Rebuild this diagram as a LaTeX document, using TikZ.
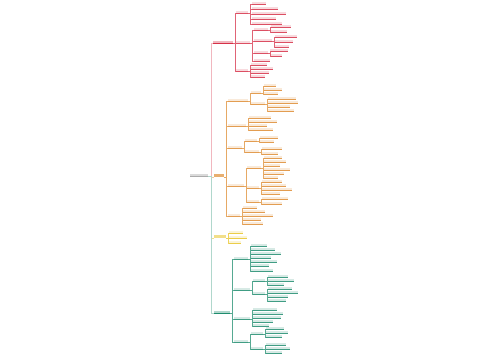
\documentclass[tikz,border=0pt]{standalone}
\definecolor{cr}{RGB}{214,48,72}
\definecolor{co}{RGB}{222,140,50}
\definecolor{cy}{RGB}{232,196,40}
\definecolor{cg}{RGB}{30,140,110}
\definecolor{cgray}{RGB}{150,150,150}
\tikzset{
  bar/.style={inner sep=0pt, minimum height=1.4pt, anchor=south west, fill=#1!18},
  uline/.style={draw=#1!85, line width=0.25pt},
  conn/.style={draw=#1!75, line width=0.3pt},
  mainbar/.style={inner sep=0pt, minimum height=2pt, anchor=south west, fill=#1!35},
}
\newcommand\nd[6]{%
  \node[bar=#5, minimum width=#4pt] (#1) at (#2,#3) {};
  \draw[uline=#5] (#1.south west) -- (#1.south east);
  \draw[conn=#5] (#6.south east) -- ++(1.5,0) |- (#1.south west);
}
\newcommand\lv[4]{%
  \foreach \yy/\ww [count=\i] in {#4} {\nd{#1-\i}{#2}{\yy}{\ww}{#3}{#1}}%
}
\begin{document}
\begin{tikzpicture}[x=1pt,y=-1pt]
\useasboundingbox (0,0) rectangle (500,360);
\fill[white] (0,0) rectangle (500,360);
% root
\node[mainbar=cgray, minimum width=18pt] (R) at (190,176) {};
\draw[cgray!80, line width=0.4pt] (R.south west) -- (R.south east);
% main branches
\node[mainbar=cr, minimum width=20pt] (A) at (213,43) {};
\draw[cr, line width=0.8pt] (A.south west) -- (A.south east);
\draw[cr!35, line width=0.5pt] (R.south east) -- ++(3,0) |- (A.south west);
\node[inner sep=0pt, minimum height=3pt, minimum width=10pt, anchor=south west, fill=co!70] (B) at (214,177) {};
\draw[co!45, line width=0.5pt] (R.south east) -- ++(3,0) |- (B.south west);
\node[inner sep=0pt, minimum height=3pt, minimum width=12pt, anchor=south west, fill=cy!55] (C) at (214,238) {};
\draw[cy!55, line width=0.5pt] (R.south east) -- ++(3,0) |- (C.south west);
\node[mainbar=cg, minimum width=16pt] (D) at (214,313) {};
\draw[cg, line width=0.8pt] (D.south west) -- (D.south east);
\draw[cg!35, line width=0.5pt] (R.south east) -- ++(3,0) |- (D.south west);
% ---------- red ----------
\nd{A1}{236}{13}{12}{cr}{A}
\lv{A1}{252}{cr}{4/14,9/26,14/34,19/24,24/30}
\nd{A2}{236}{43}{14}{cr}{A}
\nd{A21}{254}{30}{14}{cr}{A2}
\lv{A21}{271}{cr}{27/20,32/16}
\nd{A22}{254}{41}{18}{cr}{A2}
\lv{A22}{275}{cr}{37/22,42/18,47/14}
\nd{A23}{254}{53}{14}{cr}{A2}
\lv{A23}{270}{cr}{51/18,56/12}
\nd{A24}{254}{61}{16}{cr}{A2}
\nd{A3}{236}{71}{12}{cr}{A}
\lv{A3}{251}{cr}{65/16,69/22,73/18,77/14}
% ---------- orange ----------
\nd{B1}{228}{101}{20}{co}{B}
\nd{B11}{251}{93}{10}{co}{B1}
\lv{B11}{264}{co}{86/12,90/18,94/14}
\nd{B12}{251}{104}{14}{co}{B1}
\lv{B12}{268}{co}{99/28,103/30,107/22,111/26}
\nd{B2}{228}{126}{18}{co}{B}
\lv{B2}{249}{co}{118/22,122/28,126/18,130/24}
\nd{B3}{228}{148}{14}{co}{B}
\nd{B31}{245}{141}{12}{co}{B3}
\lv{B31}{260}{co}{138/18,142/14}
\nd{B32}{245}{152}{14}{co}{B3}
\lv{B32}{262}{co}{149/20,154/16}
\nd{B4}{228}{186}{16}{co}{B}
\nd{B41}{247}{168}{14}{co}{B4}
\lv{B41}{264}{co}{158/18,162/22,166/16,170/26,174/20,178/14}
\nd{B42}{247}{188}{12}{co}{B4}
\lv{B42}{262}{co}{182/20,186/24,190/30,194/18}
\nd{B43}{247}{202}{12}{co}{B4}
\lv{B43}{262}{co}{199/26,204/20}
\nd{B5}{228}{216}{12}{co}{B}
\lv{B5}{243}{co}{208/14,212/22,216/30,220/18,224/20}
% ---------- yellow ----------
\lv{C}{229}{cy}{233/14,238/18,243/12}
% ---------- green ----------
\nd{D1}{234}{259}{14}{cg}{D}
\lv{D1}{251}{cg}{246/16,250/24,254/30,258/20,262/26,266/18,271/22}
\nd{D2}{234}{290}{16}{cg}{D}
\nd{D21}{253}{281}{12}{cg}{D2}
\lv{D21}{268}{cg}{277/20,281/26,285/16}
\nd{D22}{253}{294}{12}{cg}{D2}
\lv{D22}{268}{cg}{289/24,293/30,297/20,301/18}
\nd{D3}{234}{319}{16}{cg}{D}
\lv{D3}{253}{cg}{310/24,314/30,318/28,322/20,326/16}
\nd{D4}{234}{342}{14}{cg}{D}
\nd{D41}{251}{334}{12}{cg}{D4}
\lv{D41}{266}{cg}{329/18,333/22,337/16}
\nd{D42}{251}{349}{12}{cg}{D4}
\lv{D42}{266}{cg}{345/20,349/24,353/16}
\end{tikzpicture}
\end{document}
